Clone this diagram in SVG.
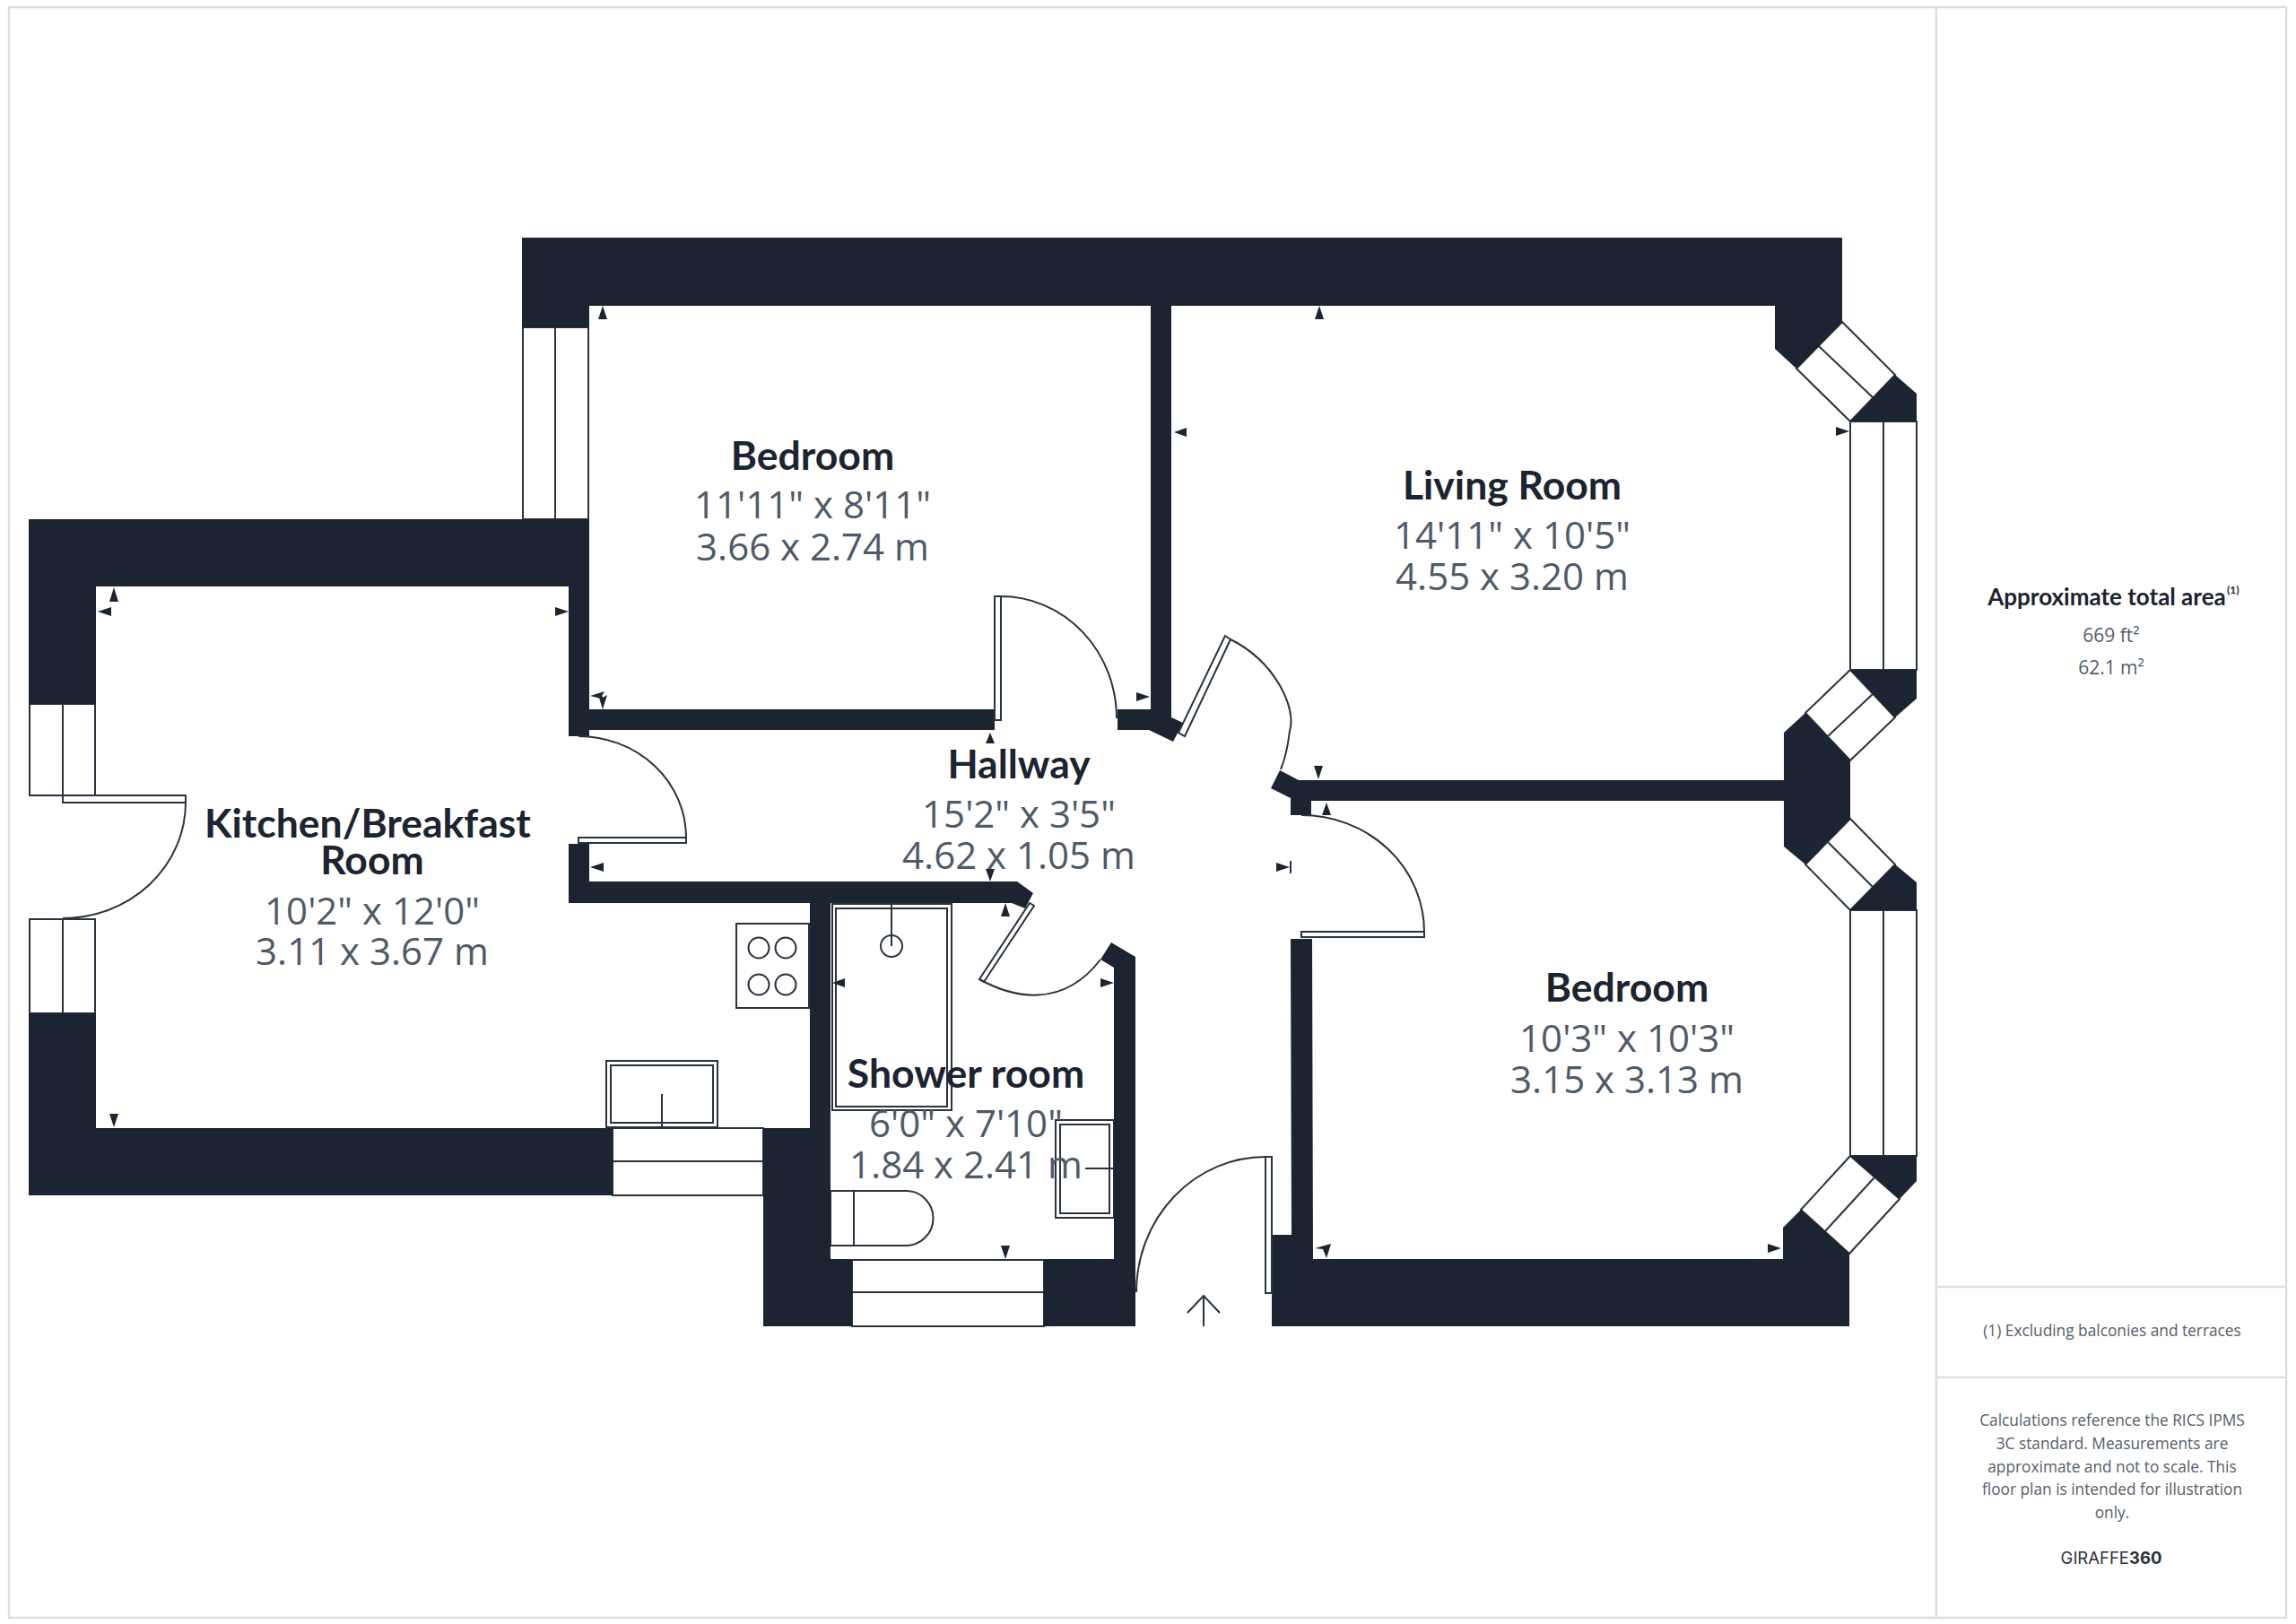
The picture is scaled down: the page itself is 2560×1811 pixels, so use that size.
<svg xmlns="http://www.w3.org/2000/svg" width="2560" height="1811" viewBox="0 0 2560 1811">
<style>
.w{fill:#1b2430;stroke:none}
.o{fill:#fff;stroke:#2a333e;stroke-width:2}
.l{fill:none;stroke:#2a333e;stroke-width:2}
.t{fill:#1b2430;stroke:none}
.f{fill:none;stroke:#dedede;stroke-width:2.5}
.n{font-family:"Lato","Inter",sans-serif;font-weight:700;font-size:44.5px;fill:#1b2430;text-anchor:middle}
.d{font-family:"Open Sans","Noto Sans",sans-serif;font-size:42px;fill:#4f5a68;text-anchor:middle}
.p{font-family:"Open Sans","Noto Sans",sans-serif;font-size:17.3px;fill:#555e69;text-anchor:middle}
.a{font-family:"Open Sans","Noto Sans",sans-serif;font-size:21px;fill:#555e69;text-anchor:middle}
</style>
<rect width="2560" height="1811" fill="#fff"/>
<g id="frame">
<rect class="f" x="10" y="8" width="2539" height="1796"/>
<path class="f" d="M2159 8V1804M2159 1435H2549M2159 1536H2549"/>
</g>
<g id="fixtures">
<rect class="o" x="821" y="1030" width="81" height="94"/>
<circle class="l" cx="846" cy="1057" r="11.5"/><circle class="l" cx="876" cy="1057" r="11.5"/>
<circle class="l" cx="846" cy="1098" r="11.5"/><circle class="l" cx="876" cy="1098" r="11.5"/>
<rect class="o" x="676" y="1183" width="124" height="74"/><rect class="o" x="681" y="1188" width="114" height="64"/>
<path class="l" d="M738 1220V1257"/>
<rect class="o" x="928" y="1008" width="133" height="230"/><rect class="o" x="932" y="1013" width="124" height="221"/>
<path class="l" d="M994 1008V1055"/><circle class="l" cx="994" cy="1055" r="12"/>
<rect class="o" x="1177" y="1249" width="65" height="109"/><rect class="o" x="1182" y="1254" width="55" height="99"/>
<path class="l" d="M1210 1303H1242"/>
<path class="o" d="M926 1328H1010A30.500 30.500 0 0 1 1010 1389H926Z"/><path class="l" d="M952 1328V1389"/>
</g>
<g id="windows">
<rect class="o" x="583" y="365" width="73" height="214"/><path class="l" d="M619 365V579"/>
<rect class="o" x="33" y="785" width="73" height="102"/><path class="l" d="M70 785V887"/>
<rect class="o" x="33" y="1025" width="73" height="105"/><path class="l" d="M70 1025V1130"/>
<rect class="o" x="683" y="1258" width="168" height="75"/><path class="l" d="M683 1295H851"/>
<rect class="o" x="950" y="1405" width="214" height="74"/><path class="l" d="M950 1441H1164"/>
<path class="o" d="M2054 359L2113 418L2063 470L2003 411Z"/><path class="l" d="M2028 386L2089 444"/>
<rect class="o" x="2063" y="470" width="74" height="277"/><path class="l" d="M2100 470V747"/>
<path class="o" d="M2063 747L2113 800L2063 848L2013 795Z"/><path class="l" d="M2088 774L2038 821"/>
<path class="o" d="M2063 913L2113 964L2063 1015L2013 964Z"/><path class="l" d="M2038 939L2089 990"/>
<rect class="o" x="2063" y="1015" width="74" height="274"/><path class="l" d="M2100 1015V1289"/>
<path class="o" d="M2063 1289L2118 1337L2062 1398L2008 1349Z"/><path class="l" d="M2090 1313L2035 1373"/>
</g>
<g id="walls">
<polygon class="w" points="582,265 2054,265 2054,359 2003,411 1979,389 1979,341 1306,341 1306,800 1319,806 1308,827 1281,814 1246,814 1246,791 1283,791 1283,341 657,341 657,365 582,365"/>
<polygon class="w" points="32,579 657,579 657,791 1109,791 1109,814 657,814 657,821 634,821 634,654 107,654 107,785 32,785"/>
<polygon class="w" points="32,1130 107,1130 107,1258 683,1258 683,1333 32,1333"/>
<polygon class="w" points="634,941 657,941 657,983 1134,983 1152,996 1143,1013 1128,1007 926,1007 926,1404 950,1404 950,1479 851,1479 851,1258 903,1258 903,1007 634,1007"/>
<polygon class="w" points="1239,1051 1266,1067 1266,1479 1164,1479 1164,1404 1242,1404 1242,1079 1227,1070"/>
<polygon class="w" points="1427,859 1448,870 1989,870 1989,817 2013,795 2063,848 2063,913 2013,964 1989,944 1989,893 1462,893 1462,909 1439,909 1439,890 1417,879"/>
<polygon class="w" points="1439,1047 1463,1047 1464,1404 1988,1404 1988,1369 2008,1349 2062,1398 2062,1479 1418,1479 1418,1377 1440,1377"/>
<polygon class="w" points="2113,418 2137,439 2137,470 2063,470"/>
<polygon class="w" points="2063,747 2137,747 2137,779 2113,800"/>
<polygon class="w" points="2113,964 2137,984 2137,1015 2063,1015"/>
<polygon class="w" points="2063,1289 2137,1289 2137,1317 2118,1337"/>
</g>
<g id="doors">
<path class="o" d="M1109 665H1116V803H1109Z"/><path class="l" d="M1116 665A129 136 0 0 1 1245 801"/>
<path class="o" d="M1366 709L1372 713L1321 821L1314 817Z"/><path class="l" d="M1372 713C1422 738 1446 790 1438 815C1436 832 1433 846 1428 858"/>
<path class="o" d="M645 934H765V940H645Z"/><path class="l" d="M645 821A120 113 0 0 1 765 934"/>
<path class="o" d="M70 887H207V895H70Z"/><path class="l" d="M207 895A137 129 0 0 1 70 1024"/>
<path class="o" d="M1451 1039H1588V1045H1451Z"/><path class="l" d="M1451 909A137 130 0 0 1 1588 1039"/>
<path class="o" d="M1148 1007L1153 1010L1097 1095L1092 1092Z"/><path class="l" d="M1092 1092C1130 1113 1185 1125 1227 1070"/>
<path class="o" d="M1411 1290H1418V1442H1411Z"/><path class="l" d="M1411 1290A144 151 0 0 0 1267 1441"/>
<path class="l" d="M1342 1479V1445M1324 1464L1342 1445L1360 1464"/>
</g>
<g id="dimension-ticks">
<path class="t" d="M672 341l5 15h-10zM658 776l16-5l-3 5l3 4zM672 791l-5-16l5 3l5-3z"/>
<path class="t" d="M1282 777l-15-5v10zM109 682l15-5v10zM127 655l5 16h-10zM634 682l-15-5v10zM127 1257l-5-15h10zM658 967l15-5v10z"/>
<path class="t" d="M1104 817l5 12h-10zM1104 983l-5-14h10zM1438 967l-15-5v10z"/><path class="l" d="M1439 960V974"/>
<path class="t" d="M1471 341l5 15h-10zM1309 482l14-5v10zM2062 481l-15-5v10zM1470 869l-5-15h10zM1479 895l5 14h-10z"/>
<path class="t" d="M1466 1392l18-5l-5 16l-4-10zM1986 1392l-15-5v10zM1121 1007l5 15h-10zM928 1096l14-5v10zM1242 1096l-15-5v10zM1121 1404l-5-15h10z"/>
</g>
<g id="room-bedroom-1"><text class="n" x="906" y="524">Bedroom</text><text class="d" x="906" y="578">11'11" x 8'11"</text><text class="d" x="906" y="625">3.66 x 2.74 m</text></g>
<g id="room-living"><text class="n" x="1686" y="557">Living Room</text><text class="d" x="1686" y="612">14'11" x 10'5"</text><text class="d" x="1686" y="658">4.55 x 3.20 m</text></g>
<g id="room-kitchen"><text class="n" x="410" y="934">Kitchen/Breakfast</text><text class="n" x="415" y="975">Room</text><text class="d" x="415" y="1031">10'2" x 12'0"</text><text class="d" x="415" y="1076">3.11 x 3.67 m</text></g>
<g id="room-hallway"><text class="n" x="1136" y="868">Hallway</text><text class="d" x="1136" y="923">15'2" x 3'5"</text><text class="d" x="1136" y="969">4.62 x 1.05 m</text></g>
<g id="room-shower"><text class="n" x="1077" y="1213">Shower room</text><text class="d" x="1077" y="1268">6'0" x 7'10"</text><text class="d" x="1077" y="1314">1.84 x 2.41 m</text></g>
<g id="room-bedroom-2"><text class="n" x="1814" y="1117">Bedroom</text><text class="d" x="1814" y="1173">10'3" x 10'3"</text><text class="d" x="1814" y="1219">3.15 x 3.13 m</text></g>
<g id="panel">
<text x="2349" y="675" style="font-family:Lato,Inter,sans-serif;font-weight:700;font-size:26px;fill:#1b2430;text-anchor:middle">Approximate total area</text>
<text x="2483" y="662" style="font-family:Lato,Inter,sans-serif;font-weight:700;font-size:12px;fill:#1b2430">(1)</text>
<text class="a" x="2354" y="716">669 ft²</text><text class="a" x="2354" y="752">62.1 m²</text>
<text class="p" x="2355" y="1490">(1) Excluding balconies and terraces</text>
<text class="p" x="2355" y="1590">Calculations reference the RICS IPMS</text>
<text class="p" x="2355" y="1616">3C standard. Measurements are</text>
<text class="p" x="2355" y="1642">approximate and not to scale. This</text>
<text class="p" x="2355" y="1667">floor plan is intended for illustration</text>
<text class="p" x="2355" y="1693">only.</text>
<text x="2354" y="1744" style="font-family:Inter,sans-serif;font-size:18.500px;fill:#2b323c;text-anchor:middle">GIRAFFE<tspan font-weight="700">360</tspan></text>
</g>
</svg>
